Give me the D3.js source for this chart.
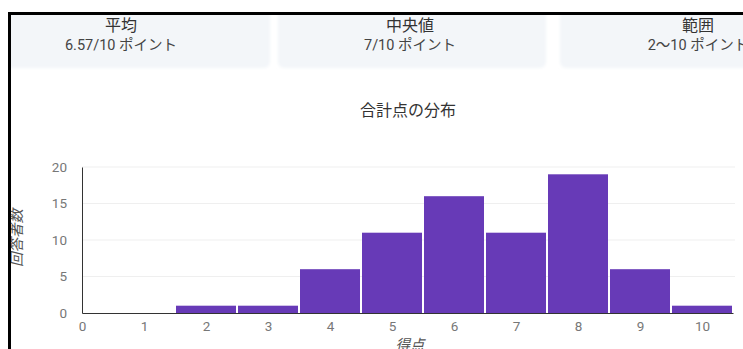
<!DOCTYPE html>
<html>
<head>
<meta charset="utf-8">
<script src="https://cdn.jsdelivr.net/npm/d3@7"></script>
<style>
  body { margin: 0; background: #fff; overflow: hidden; }
  svg { display: block; font-family: Roboto, "Noto Sans CJK JP", sans-serif; }
</style>
</head>
<body>
<div id="chart"></div>
<script>
const W = 743, H = 349

// summary cards
const cardTitles = ["平均", "中央値", "範囲"]
const cardValues = ["6.57/10 ポイント", "7/10 ポイント", "2〜10 ポイント"]

// histogram
const scores = [2, 3, 4, 5, 6, 7, 8, 9, 10]
const counts = [1, 1, 6, 11, 16, 11, 19, 6, 1]
const yTicks = [0, 5, 10, 15, 20]
const xTicks = [0, 1, 2, 3, 4, 5, 6, 7, 8, 9, 10]

const svg = d3.select("#chart").append("svg")
    .attr("width", W)
    .attr("height", H)

// cards
const cards = [
    {x0: -40, x1: 270, cx: 121},
    {x0: 278, x1: 546, cx: 410},
    {x0: 560, x1: 840, cx: 698}
]
const defs = svg.append("defs")
defs.append("filter").attr("id", "soft")
    .append("feGaussianBlur").attr("stdDeviation", 1.5)

cards.forEach((c, i) => {
    svg.append("rect")
        .attr("x", c.x0).attr("y", 4)
        .attr("width", c.x1 - c.x0).attr("height", 64)
        .attr("rx", 6)
        .attr("fill", "#f3f6f9")
        .attr("filter", "url(#soft)")
    svg.append("text")
        .attr("x", c.cx).attr("y", 31)
        .attr("text-anchor", "middle")
        .attr("font-size", 16)
        .attr("fill", "#333")
        .text(cardTitles[i])
    svg.append("text")
        .attr("x", c.cx).attr("y", 50)
        .attr("text-anchor", "middle")
        .attr("font-size", 14.5)
        .attr("fill", "#444")
        .text(cardValues[i])
})

// chart title
svg.append("text")
    .attr("x", 408).attr("y", 116)
    .attr("text-anchor", "middle")
    .attr("font-size", 16)
    .attr("fill", "#333")
    .text("合計点の分布")

const x = d3.scaleLinear().domain([0, 10.5]).range([82, 733])
const y = d3.scaleLinear().domain([0, 20]).range([313, 167])

// grid lines
svg.append("g")
    .selectAll("line")
    .data(yTicks.slice(1))
    .enter()
    .append("line")
    .attr("x1", 82).attr("x2", 735)
    .attr("y1", d => y(d)).attr("y2", d => y(d))
    .attr("stroke", "#efefef")

// bars
svg.append("g")
    .selectAll("rect")
    .data(scores)
    .enter()
    .append("rect")
    .attr("x", d => x(d - 0.5) + 1)
    .attr("y", (d, i) => y(counts[i]))
    .attr("width", d => x(d + 0.5) - x(d - 0.5) - 2)
    .attr("height", (d, i) => y(0) - y(counts[i]))
    .attr("fill", "#673ab7")

// axes
const yAxis = svg.append("g")
    .attr("transform", "translate(82,0)")
    .call(d3.axisLeft(y).tickValues(yTicks).tickSize(0).tickPadding(15))
yAxis.select(".domain").attr("stroke", "#333")
yAxis.selectAll("text")
    .attr("font-size", 13.5)
    .attr("fill", "#777")
    .attr("font-family", "Roboto, sans-serif")

const xAxis = svg.append("g")
    .attr("transform", "translate(0,313)")
    .call(d3.axisBottom(x).tickValues(xTicks).tickSize(0).tickPadding(8))
xAxis.select(".domain").attr("stroke", "#333")
xAxis.selectAll("text")
    .attr("font-size", 13.5)
    .attr("fill", "#777")
    .attr("font-family", "Roboto, sans-serif")

// axis titles
svg.append("text")
    .attr("transform", "translate(22,238) rotate(-90)")
    .attr("text-anchor", "middle")
    .attr("font-size", 14.5)
    .attr("font-style", "italic")
    .attr("fill", "#555")
    .text("回答者数")

svg.append("text")
    .attr("x", 410).attr("y", 350)
    .attr("text-anchor", "middle")
    .attr("font-size", 14.5)
    .attr("font-style", "italic")
    .attr("fill", "#555")
    .text("得点")

// frame seen along the top and left of the screenshot
svg.append("rect").attr("x", 8).attr("y", 0).attr("width", W).attr("height", 12).attr("fill", "#fff")
svg.append("rect").attr("x", 0).attr("y", 0).attr("width", 8).attr("height", H).attr("fill", "#fff")
svg.append("rect").attr("x", 8).attr("y", 12).attr("width", W).attr("height", 3).attr("fill", "#000")
svg.append("rect").attr("x", 8).attr("y", 12).attr("width", 3).attr("height", H).attr("fill", "#000")
</script>
</body>
</html>
